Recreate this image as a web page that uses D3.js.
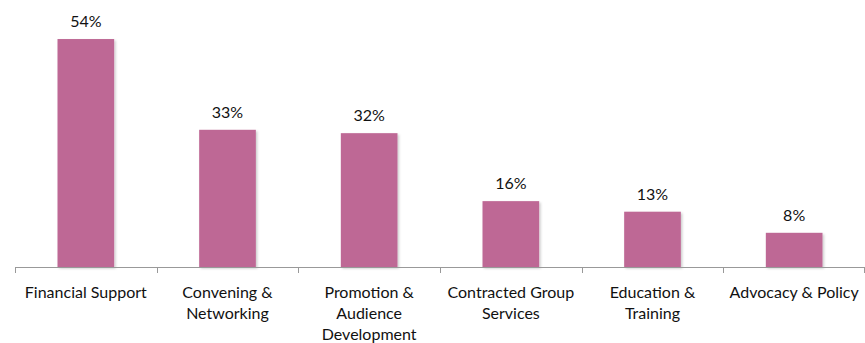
<!DOCTYPE html>
<html><head><meta charset="utf-8">
<script src="https://cdn.jsdelivr.net/npm/d3@7"></script>
<style>body{margin:0;background:#fff}svg{display:block}text{font-family:Lato,"Open Sans",sans-serif;fill:#111}</style>
</head><body><svg id="c" width="865" height="343"></svg>
<script>
const categories = [["Financial Support"],["Convening &","Networking"],["Promotion &","Audience","Development"],["Contracted Group","Services"],["Education &","Training"],["Advocacy & Policy"]];
const values = [54,32.5,31.7,15.6,13.1,8.1];
const valueLabels = ["54%","33%","32%","16%","13%","8%"];

const svg = d3.select("#c");
const x = d3.scaleBand().domain(d3.range(categories.length)).range([15,865]).padding(0);
const y = d3.scaleLinear().domain([0,60]).range([267,13.7]);
const bw = x.bandwidth()*0.4;

const defs = svg.append("defs");
const f = defs.append("filter").attr("id","sh").attr("x","-10%").attr("y","-10%").attr("width","130%").attr("height","130%");
f.append("feDropShadow").attr("dx",1.5).attr("dy",1.5).attr("stdDeviation",1).attr("flood-color","#000").attr("flood-opacity",0.2);

svg.selectAll("rect.bar").data(values).join("rect").attr("class","bar")
  .attr("x",(d,i)=>x(i)+x.bandwidth()/2-bw/2).attr("width",bw)
  .attr("y",d=>y(d)).attr("height",d=>y(0)-y(d))
  .attr("fill","#BE6895").attr("filter","url(#sh)");

svg.selectAll("text.val").data(values).join("text").attr("class","val")
  .attr("x",(d,i)=>x(i)+x.bandwidth()/2).attr("y",d=>y(d)-12)
  .attr("text-anchor","middle").style("font-size","16px").text((d,i)=>valueLabels[i]);

const g = svg.append("g");
g.append("line").attr("x1",15).attr("x2",865).attr("y1",267.5).attr("y2",267.5).attr("stroke","#999");
const bounds = d3.range(categories.length+1).map(i=> i<categories.length ? x(i) : x(i-1)+x.bandwidth());
g.selectAll("line.t").data(bounds).join("line").attr("class","t")
  .attr("x1",d=>Math.min(Math.round(d)+0.5,864.5)).attr("x2",d=>Math.min(Math.round(d)+0.5,864.5))
  .attr("y1",267).attr("y2",273).attr("stroke","#999");

const lab = svg.selectAll("text.cat").data(categories).join("text").attr("class","cat")
  .attr("text-anchor","middle").style("font-size","16px");
lab.each(function(lines,i){
  const t = d3.select(this);
  lines.forEach((l,j)=>t.append("tspan").attr("x",x(i)+x.bandwidth()/2).attr("y",298+j*21).text(l));
});
</script></body></html>
